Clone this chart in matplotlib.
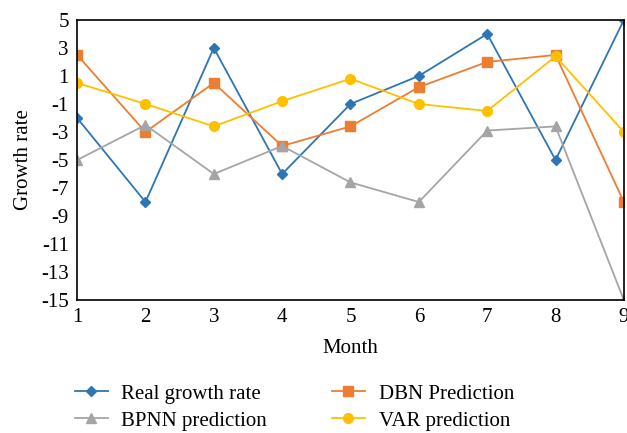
import numpy as np
import matplotlib.pyplot as plt

months = [1, 2, 3, 4, 5, 6, 7, 8, 9]
real_rate = [-2, -8, 3, -6, -1, 1, 4, -5, 5]
dbn_pred = [2.5, -3, 0.5, -4, -2.6, 0.2, 2, 2.5, -8]
bpnn_pred = [-5, -2.5, -6, -4, -6.6, -8, -2.9, -2.6, -15]
var_pred = [0.5, -1, -2.6, -0.8, 0.8, -1, -1.5, 2.4, -3]

plt.rcParams.update({'font.family': 'Liberation Serif', 'font.size': 15,
                     'axes.unicode_minus': False})
fig = plt.figure(figsize=(6.27, 4.33), dpi=100)
ax = fig.add_axes([0.123, 0.307, 0.872, 0.647])

l_real, = ax.plot(months, real_rate, color='#2E75B6', marker='D', markersize=5, lw=1.3, label='Real growth rate')
l_dbn, = ax.plot(months, dbn_pred, color='#ED7D31', marker='s', markersize=7, lw=1.3, label='DBN Prediction')
l_bpnn, = ax.plot(months, bpnn_pred, color='#A5A5A5', marker='^', markersize=7, lw=1.3, label='BPNN prediction')
l_var, = ax.plot(months, var_pred, color='#FFC000', marker='o', markersize=7, lw=1.3, label='VAR prediction')

ax.set_xlim(1, 9)
ax.set_ylim(-15, 5)
ax.set_xticks(months)
ax.set_yticks(np.arange(-15, 6, 2))
ax.tick_params(length=0, pad=6)
for s in ax.spines.values():
    s.set_linewidth(1.2)
ax.set_xlabel('Month', labelpad=8)
ax.set_ylabel('Growth rate', labelpad=6)

# column-major order so the rows read Real/DBN, BPNN/VAR
handles = [l_real, l_bpnn, l_dbn, l_var]
ax.legend(handles=handles, labels=[h.get_label() for h in handles],
          loc='upper left', bbox_to_anchor=(-0.02, -0.27), ncol=2, frameon=False,
          handlelength=1.6, handletextpad=0.65, columnspacing=3.1,
          labelspacing=0.35, fontsize=15, borderaxespad=0)

fig.savefig('out.png', dpi=100)
